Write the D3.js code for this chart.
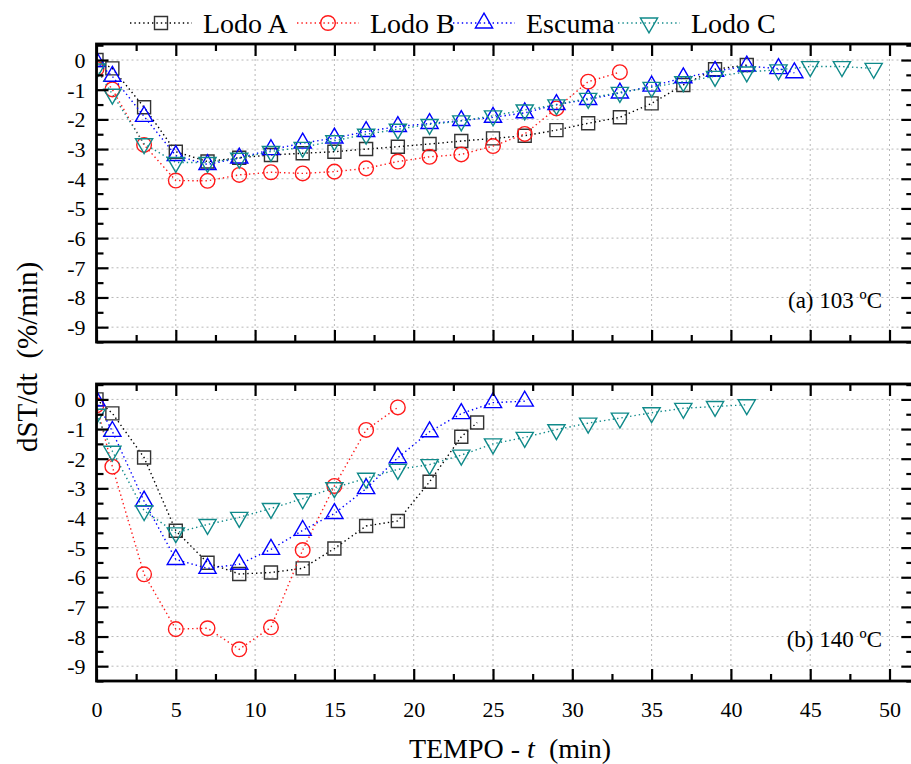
<!DOCTYPE html>
<html>
<head>
<meta charset="utf-8">
<script src="https://cdn.jsdelivr.net/npm/d3@7"></script>
<style>
  body { margin: 0; background: #fff; }
  svg { font-family: "Liberation Serif", "DejaVu Serif", serif; }
</style>
</head>
<body>
<div id="chart"></div>
<script>
// ---- data (time in min, dST/dt in %/min) ----
const seriesNames = ["Lodo A", "Lodo B", "Escuma", "Lodo C"];

// (a) 103 ºC
const tA103 = [0, 1, 3, 5, 7, 9, 11, 13, 15, 17, 19, 21, 23, 25, 27, 29, 31, 33, 35, 37, 39, 41];
const vA103 = [0, -0.28, -1.59, -3.09, -3.42, -3.29, -3.2, -3.14, -3.09, -3.0, -2.92, -2.83, -2.73, -2.64, -2.55, -2.36, -2.13, -1.93, -1.46, -0.84, -0.31, -0.17];
const tB103 = [0, 1, 3, 5, 7, 9, 11, 13, 15, 17, 19, 21, 23, 25, 27, 29, 31, 33];
const vB103 = [-0.3, -0.99, -2.86, -4.06, -4.07, -3.87, -3.78, -3.82, -3.76, -3.65, -3.42, -3.26, -3.18, -2.9, -2.49, -1.63, -0.73, -0.41];
const tE103 = [0, 1, 3, 5, 7, 9, 11, 13, 15, 17, 19, 21, 23, 25, 27, 29, 31, 33, 35, 37, 39, 41, 43, 44];
const vE103 = [-0.05, -0.55, -1.9, -3.22, -3.52, -3.3, -3.02, -2.8, -2.63, -2.41, -2.24, -2.14, -2.04, -1.93, -1.78, -1.5, -1.33, -1.11, -0.88, -0.6, -0.38, -0.2, -0.29, -0.43];
const tC103 = [0, 1, 3, 5, 7, 9, 11, 13, 15, 17, 19, 21, 23, 25, 27, 29, 31, 33, 35, 37, 39, 41, 43, 45, 47, 49];
const vC103 = [-0.3, -1.15, -2.82, -3.45, -3.45, -3.31, -3.08, -2.94, -2.72, -2.5, -2.33, -2.17, -2.05, -1.88, -1.68, -1.51, -1.29, -1.09, -0.92, -0.73, -0.55, -0.4, -0.33, -0.22, -0.22, -0.28];

// (b) 140 ºC
const tA140 = [0, 1, 3, 5, 7, 9, 11, 13, 15, 17, 19, 21, 23, 24];
const vA140 = [0, -0.47, -1.96, -4.43, -5.51, -5.89, -5.84, -5.7, -5.03, -4.27, -4.1, -2.78, -1.26, -0.78];
const tB140 = [0, 1, 3, 5, 7, 9, 11, 13, 15, 17, 19];
const vB140 = [-0.2, -2.27, -5.9, -7.75, -7.72, -8.43, -7.69, -5.08, -2.92, -1.03, -0.27];
const tE140 = [0, 1, 3, 5, 7, 9, 11, 13, 15, 17, 19, 21, 23, 25, 27];
const vE140 = [-0.05, -1.08, -3.43, -5.4, -5.7, -5.56, -5.06, -4.42, -3.85, -3.01, -1.97, -1.09, -0.48, -0.11, -0.06];
const tC140 = [0, 1, 3, 5, 7, 9, 11, 13, 15, 17, 19, 21, 23, 25, 27, 29, 31, 33, 35, 37, 39, 41];
const vC140 = [-0.5, -1.75, -3.75, -4.5, -4.22, -3.98, -3.68, -3.35, -2.98, -2.66, -2.36, -2.2, -1.88, -1.5, -1.28, -1.02, -0.8, -0.63, -0.45, -0.3, -0.24, -0.18];

const panelLabels = ["(a) 103 ºC", "(b) 140 ºC"];
const xTickValues = [0, 5, 10, 15, 20, 25, 30, 35, 40, 45, 50];
const yTickValues = [0, -1, -2, -3, -4, -5, -6, -7, -8, -9];

// ---- styling ----
const colors = ["#000000", "#ff1a1a", "#0000ff", "#108a8a"];
const strokes = ["#333333", "#ff1a1a", "#0000ff", "#108a8a"];
const shapes = ["square", "circle", "up", "down"];

const width = 911, height = 764;
const svg = d3.select("#chart").append("svg")
    .attr("width", width)
    .attr("height", height);

const x = d3.scaleLinear().domain([0, 51.5]).range([96.5, 913.3]);

const panels = [
    { top: 44, bottom: 342, domain: [-9.5, 0.54],
      data: [[tA103, vA103], [tB103, vB103], [tE103, vE103], [tC103, vC103]] },
    { top: 384, bottom: 681, domain: [-9.5, 0.52],
      data: [[tA140, vA140], [tB140, vB140], [tE140, vE140], [tC140, vC140]] }
];

function symbolPath(shape) {
    if (shape === "square") return d3.symbol(d3.symbolSquare, 169)();
    if (shape === "circle") return d3.symbol(d3.symbolCircle, 168)();
    return d3.symbol(d3.symbolTriangle, 128)();
}

function drawMarker(g, shape, i) {
    return g.append("path")
        .attr("d", symbolPath(shape))
        .attr("transform", shape === "down" ? "rotate(180)" : null)
        .attr("fill", "none")
        .attr("stroke", strokes[i])
        .attr("stroke-width", 1.4);
}

panels.forEach((p, pi) => {
    const y = d3.scaleLinear().domain(p.domain).range([p.bottom, p.top]);
    const g = svg.append("g");
    const x0 = x.range()[0], x1 = x.range()[1];

    // grid
    g.append("g").selectAll("line").data(xTickValues.filter(d => d > 0)).join("line")
        .attr("x1", d => x(d)).attr("x2", d => x(d))
        .attr("y1", p.top).attr("y2", p.bottom)
        .attr("stroke", "#b8b8b8").attr("stroke-width", 1).attr("stroke-dasharray", "2,3");
    g.append("g").selectAll("line").data(yTickValues).join("line")
        .attr("x1", x0).attr("x2", x1)
        .attr("y1", d => y(d)).attr("y2", d => y(d))
        .attr("stroke", "#b8b8b8").attr("stroke-width", 1).attr("stroke-dasharray", "2,3");

    // data, clipped to the plot area
    const clipId = "clip" + pi;
    svg.append("clipPath").attr("id", clipId).append("rect")
        .attr("x", x0).attr("y", p.top).attr("width", x1 - x0).attr("height", p.bottom - p.top);
    const plot = g.append("g").attr("clip-path", `url(#${clipId})`);

    p.data.forEach(([ts, vs], si) => {
        const pts = ts.map((t, k) => [t, vs[k]]);
        plot.append("path")
            .attr("d", d3.line().x(d => x(d[0])).y(d => y(d[1]))(pts))
            .attr("fill", "none")
            .attr("stroke", colors[si])
            .attr("stroke-width", 1.4)
            .attr("stroke-dasharray", "1.4,3");
        plot.append("g").selectAll("g").data(pts).join("g")
            .attr("transform", d => `translate(${x(d[0])},${y(d[1])})`)
            .each(function () { drawMarker(d3.select(this), shapes[si], si); });
    });

    // axes (ticks point inward)
    const minorX = d3.range(0, 52, 2.5).filter(d => d % 5 !== 0);
    const minorY = d3.range(-9.5, 0.6, 0.5).filter(d => !Number.isInteger(d));

    const left = g.append("g").attr("transform", `translate(${x0},0)`)
        .call(d3.axisLeft(y).tickValues(yTickValues).tickSize(-12).tickPadding(11)
            .tickFormat(d => String(d)));
    g.append("g").attr("transform", `translate(${x0},0)`)
        .call(d3.axisLeft(y).tickValues(minorY).tickSize(-7).tickFormat(""));
    g.append("g").attr("transform", `translate(${x1},0)`)
        .call(d3.axisRight(y).tickValues(yTickValues).tickSize(-12).tickFormat(""));
    g.append("g").attr("transform", `translate(${x1},0)`)
        .call(d3.axisRight(y).tickValues(minorY).tickSize(-7).tickFormat(""));
    g.append("g").attr("transform", `translate(0,${p.top})`)
        .call(d3.axisTop(x).tickValues(xTickValues).tickSize(-12).tickFormat(""));
    g.append("g").attr("transform", `translate(0,${p.top})`)
        .call(d3.axisTop(x).tickValues(minorX).tickSize(-7).tickFormat(""));
    const bottom = g.append("g").attr("transform", `translate(0,${p.bottom})`)
        .call(d3.axisBottom(x).tickValues(xTickValues).tickSize(-12).tickPadding(20)
            .tickFormat(pi === 1 ? (d => String(d)) : ""));
    g.append("g").attr("transform", `translate(0,${p.bottom})`)
        .call(d3.axisBottom(x).tickValues(minorX).tickSize(-7).tickFormat(""));

    g.selectAll(".domain").remove();
    g.selectAll(".tick line").attr("stroke", "#000").attr("stroke-width", 2.2);
    g.selectAll(".tick text").attr("font-family", "Liberation Serif").attr("font-size", 22).attr("fill", "#000");
    left.selectAll(".tick text").attr("dy", "0.34em");
    bottom.selectAll(".tick text").attr("dy", "0.71em");

    g.append("rect")
        .attr("x", x0).attr("y", p.top).attr("width", x1 - x0).attr("height", p.bottom - p.top)
        .attr("fill", "none").attr("stroke", "#000").attr("stroke-width", 2.8);

    g.append("text")
        .attr("x", 882).attr("y", p.bottom - 34)
        .attr("text-anchor", "end")
        .attr("font-size", 23)
        .text(panelLabels[pi]);
});

// axis titles
const xt = svg.append("text")
    .attr("x", 510).attr("y", 758)
    .attr("text-anchor", "middle")
    .attr("font-size", 28);
xt.append("tspan").text("TEMPO - ");
xt.append("tspan").attr("font-style", "italic").text("t");
xt.append("tspan").text("\u00a0 (min)");

svg.append("text")
    .attr("transform", "translate(37,357) rotate(-90)")
    .attr("text-anchor", "middle")
    .attr("font-size", 29)
    .text("dST/dt\u00a0 (%/min)");

// legend
const legendX = [130, 297, 453, 618];
seriesNames.forEach((name, i) => {
    const lg = svg.append("g").attr("transform", `translate(${legendX[i]},23)`);
    lg.append("line")
        .attr("x1", 0).attr("x2", 62)
        .attr("stroke", colors[i]).attr("stroke-width", 1.4).attr("stroke-dasharray", "1.4,3");
    drawMarker(lg.append("g").attr("transform", "translate(31,0)"), shapes[i], i);
    lg.append("text")
        .attr("x", 73).attr("y", 9.5)
        .attr("font-size", 28)
        .text(name);
});
</script>
</body>
</html>
